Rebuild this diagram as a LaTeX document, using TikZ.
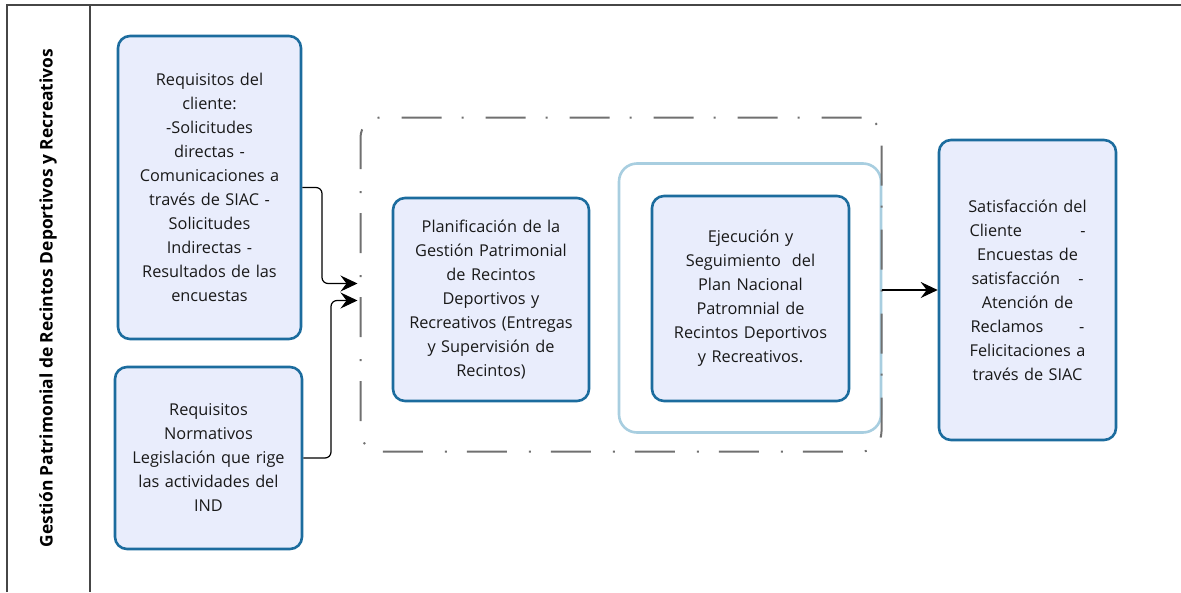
\documentclass[tikz,border=0pt]{standalone}
\usepackage{fontspec}
\setmainfont{Open Sans}
\usetikzlibrary{arrows.meta,calc}

\definecolor{boxfill}{RGB}{233,237,252}
\definecolor{boxline}{RGB}{28,108,158}
\definecolor{liteline}{RGB}{168,206,224}
\definecolor{frameline}{RGB}{70,70,70}
\definecolor{grpline}{RGB}{112,112,112}
\definecolor{txt}{RGB}{25,25,25}

\tikzset{
  procbox/.style={draw=boxline,line width=2.6pt,fill=boxfill,rounded corners=12pt,
    align=center,text=txt,inner sep=0pt,font=\fontsize{16.3}{24}\selectfont},
  litebox/.style={draw=liteline,line width=2.6pt,fill=white,rounded corners=18pt,inner sep=0pt},
  grpbox/.style={draw=grpline,line width=2pt,rounded corners=20pt,inner sep=0pt,
    dash pattern=on 40pt off 22pt on 2pt off 20pt},
  arr/.style={-{Stealth[length=17pt,width=16pt,inset=6pt]},line width=1.2pt,rounded corners=6pt}
}

\begin{document}
\begin{tikzpicture}[x=1pt,y=-1pt]
  \useasboundingbox (0,0) rectangle (1181,592);
  % lane
  \draw[frameline,line width=1.5pt] (7,592) -- (7,5) -- (1181,5);
  \draw[frameline,line width=1.5pt] (90,5) -- (90,592);
  \node[rotate=90,font=\fontsize{17.4}{20}\selectfont\bfseries,text=black] (lane) at (48,298)
    {Gestión Patrimonial de Recintos Deportivos y Recreativos};

  % group and inner frame
  \node[litebox,minimum width=262pt,minimum height=269pt] (lt) at (750,298) {};
  \node[grpbox,minimum width=521pt,minimum height=334pt] (grp) at (621,284.5) {};

  % boxes
  \node[procbox,minimum width=183pt,minimum height=303pt,text width=175pt] (req) at (209.5,187.5)
    {Requisitos del\\cliente:\\-Solicitudes\\directas -\\Comunicaciones a\\través de SIAC -\\Solicitudes\\Indirectas -\\Resultados de las\\encuestas};
  \node[procbox,minimum width=187pt,minimum height=182pt,text width=180pt] (norm) at (208.5,458)
    {Requisitos\\Normativos\\Legislación que rige\\las actividades del\\IND};
  \node[procbox,minimum width=196pt,minimum height=203pt,text width=190pt] (plan) at (491,299.5)
    {Planificación de la\\Gestión Patrimonial\\de Recintos\\Deportivos y\\Recreativos (Entregas\\y Supervisión de\\Recintos)};
  \node[procbox,minimum width=197pt,minimum height=205pt,text width=190pt] (ejec) at (750.5,298.5)
    {Ejecución y\\Seguimiento\ \ del\\Plan Nacional\\Patromnial de\\Recintos Deportivos\\y Recreativos.};
  \node[procbox,minimum width=177pt,minimum height=300pt,text width=170pt] (sat) at (1027.5,290)
    {Satisfacción del\\\makebox[116pt]{Cliente\hfill-}\\Encuestas de\\\makebox[112pt]{satisfacción\hfill-}\\Atención de\\\makebox[114pt]{Reclamos\hfill-}\\Felicitaciones a\\través de SIAC};

  % connectors
  \draw[arr] (req.east) -| (322,230) |- ($(grp.west)+(-2,-1)$);
  \draw[arr] (norm.east) -| (331,380) |- ($(grp.west)+(-2,16)$);
  \draw[arr] (lt.east |- sat.west) -- (sat.west);
\end{tikzpicture}
\end{document}
